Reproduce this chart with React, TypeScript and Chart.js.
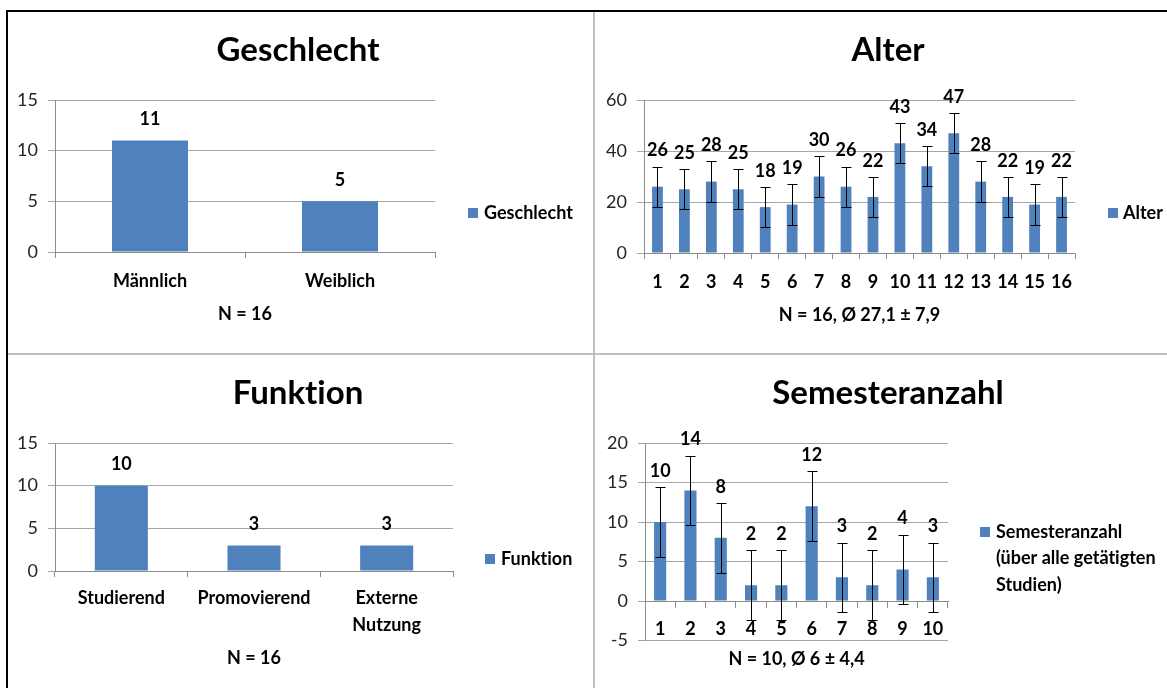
import React, { useEffect, useRef } from "react";
import { Chart, registerables } from "chart.js";

Chart.register(...registerables);

const FONT = "Lato";
const BAR_COLOR = "#4F81BD";
const GRID_COLOR = "#A6A6A6";
const AXIS_COLOR = "#8C8C8C";
const TEXT_COLOR = "#000000";
const TICK_COLOR = "#262626";

// ---- Geschlecht ----
const genderTitle = "Geschlecht";
const genderCategories = ["Männlich", "Weiblich"];
const genderValues = [11, 5];
const genderNote = "N = 16";
const genderLegend = ["Geschlecht"];
const genderTicks = [0, 5, 10, 15];

// ---- Alter ----
const ageTitle = "Alter";
const ageCategories = ["1", "2", "3", "4", "5", "6", "7", "8", "9", "10", "11", "12", "13", "14", "15", "16"];
const ageValues = [26, 25, 28, 25, 18, 19, 30, 26, 22, 43, 34, 47, 28, 22, 19, 22];
const ageSD = 7.9;
const ageNote = "N = 16, Ø 27,1 ± 7,9";
const ageLegend = ["Alter"];
const ageTicks = [0, 20, 40, 60];

// ---- Funktion ----
const roleTitle = "Funktion";
const roleCategories: (string | string[])[] = ["Studierend", "Promovierend", ["Externe", "Nutzung"]];
const roleValues = [10, 3, 3];
const roleNote = "N = 16";
const roleLegend = ["Funktion"];
const roleTicks = [0, 5, 10, 15];

// ---- Semesteranzahl ----
const semTitle = "Semesteranzahl";
const semCategories = ["1", "2", "3", "4", "5", "6", "7", "8", "9", "10"];
const semValues = [10, 14, 8, 2, 2, 12, 3, 2, 4, 3];
const semSD = 4.4;
const semNote = "N = 10, Ø 6 ± 4,4";
const semLegend = ["Semesteranzahl", "(über alle getätigten", "Studien)"];
const semTicks = [-5, 0, 5, 10, 15, 20];

function noLigatures(ctx: CanvasRenderingContext2D) {
  const c = ctx as any;
  if ("letterSpacing" in c) c.letterSpacing = "0.01px";
}

// plugin: chart title placed like the Excel original (centred on the panel)
const panelTitlePlugin = {
  id: "panelTitle",
  afterDraw(chart: any, _args: any, opts: any) {
    if (!opts.text) return;
    const ctx = chart.ctx as CanvasRenderingContext2D;
    ctx.save();
    noLigatures(ctx);
    ctx.fillStyle = TEXT_COLOR;
    ctx.font = `bold 33px ${FONT}`;
    ctx.textAlign = "center";
    ctx.textBaseline = "middle";
    ctx.fillText(opts.text, opts.x, opts.y);
    ctx.restore();
  },
};

// plugin: error bars + value labels
const barDecorPlugin = {
  id: "barDecor",
  afterDatasetsDraw(chart: any, _args: any, opts: any) {
    const sd: number = opts.sd || 0;
    const gap: number = opts.gap || 0;
    const meta = chart.getDatasetMeta(0);
    const ys = chart.scales.y;
    const values = chart.data.datasets[0].data as number[];
    const ctx = chart.ctx as CanvasRenderingContext2D;
    ctx.save();
    if (sd) {
      ctx.strokeStyle = "#000";
      ctx.lineWidth = 1;
      const cap = 5;
      meta.data.forEach((bar: any, i: number) => {
        const v = values[i];
        const x = Math.round(bar.x) + 0.5;
        const yt = Math.round(ys.getPixelForValue(v + sd)) + 0.5;
        const yb = Math.round(ys.getPixelForValue(v - sd)) + 0.5;
        ctx.beginPath();
        ctx.moveTo(x, yt);
        ctx.lineTo(x, yb);
        ctx.moveTo(x - cap, yt);
        ctx.lineTo(x + cap, yt);
        ctx.moveTo(x - cap, yb);
        ctx.lineTo(x + cap, yb);
        ctx.stroke();
      });
    }
    ctx.fillStyle = TEXT_COLOR;
    ctx.font = `bold 18px ${FONT}`;
    ctx.textAlign = "center";
    ctx.textBaseline = "middle";
    meta.data.forEach((bar: any, i: number) => {
      const v = values[i];
      const y = ys.getPixelForValue(v + sd) - gap;
      ctx.fillText(String(v), bar.x, y);
    });
    ctx.restore();
  },
};

// plugin: Excel-like side legend
const sideLegendPlugin = {
  id: "sideLegend",
  afterDraw(chart: any, _args: any, opts: any) {
    const lines: string[] = opts.lines || [];
    if (!lines.length) return;
    const ctx = chart.ctx as CanvasRenderingContext2D;
    ctx.save();
    noLigatures(ctx);
    ctx.fillStyle = BAR_COLOR;
    ctx.fillRect(opts.boxX, opts.y - 5, 10, 10);
    ctx.fillStyle = TEXT_COLOR;
    ctx.font = `bold 18px ${FONT}`;
    ctx.textAlign = "left";
    ctx.textBaseline = "middle";
    lines.forEach((t, i) => ctx.fillText(t, opts.textX, opts.y + i * opts.lineGap));
    ctx.restore();
  },
};

interface Spec {
  title: string;
  titlePos: { x: number; y: number };
  categories: (string | string[])[];
  values: number[];
  note: string;
  legend: string[];
  ticks: number[];
  sd?: number;
  gap: number;
  yWidth: number;
  layoutPad: { top: number; right: number; bottom: number };
  tickPad: number;
  tickLineHeight: number;
  notePadTop: number;
  xAtZero?: boolean;
  legendPos: { boxX: number; textX: number; y: number; lineGap: number };
}

function makeConfig(s: Spec): any {
  return {
    type: "bar",
    data: {
      labels: s.categories,
      datasets: [
        {
          label: s.legend.join(" "),
          data: s.values,
          backgroundColor: BAR_COLOR,
          borderWidth: 0,
          barPercentage: 0.4,
          categoryPercentage: 1,
        },
      ],
    },
    plugins: [barDecorPlugin, sideLegendPlugin, panelTitlePlugin],
    options: {
      responsive: false,
      animation: false,
      devicePixelRatio: 1,
      layout: { padding: { left: 0, top: s.layoutPad.top, right: s.layoutPad.right, bottom: s.layoutPad.bottom } },
      plugins: {
        legend: { display: false },
        tooltip: { enabled: false },
        title: { display: false },
        panelTitle: { text: s.title, ...s.titlePos },
        barDecor: { sd: s.sd || 0, gap: s.gap },
        sideLegend: { lines: s.legend, ...s.legendPos },
      },
      scales: {
        x: {
          type: "category",
          position: s.xAtZero ? { y: 0 } : "bottom",
          offset: true,
          grid: {
            display: true,
            drawOnChartArea: false,
            drawTicks: true,
            tickLength: 6,
            offset: true,
            color: AXIS_COLOR,
          },
          border: { display: true, color: AXIS_COLOR, width: 1 },
          ticks: {
            color: TEXT_COLOR,
            font: { family: FONT, size: 18, weight: "bold", lineHeight: s.tickLineHeight },
            padding: s.tickPad,
            maxRotation: 0,
            autoSkip: false,
          },
          title: {
            display: true,
            text: s.note,
            color: TEXT_COLOR,
            font: { family: FONT, size: 18, weight: "bold", lineHeight: 1 },
            padding: { top: s.notePadTop, bottom: 0 },
          },
        },
        y: {
          min: s.ticks[0],
          max: s.ticks[s.ticks.length - 1],
          afterBuildTicks: (scale: any) => {
            scale.ticks = s.ticks.map((v) => ({ value: v }));
          },
          afterFit: (scale: any) => {
            scale.width = s.yWidth;
          },
          grid: { color: GRID_COLOR, tickLength: 7, drawTicks: true, lineWidth: 1 },
          border: { display: true, color: AXIS_COLOR, width: 1 },
          ticks: {
            color: TICK_COLOR,
            font: { family: FONT, size: 18, weight: "normal" },
            padding: 10,
          },
        },
      },
    },
  };
}

function ChartPanel(props: { spec: Spec; left: number; top: number; width: number; height: number }) {
  const ref = useRef<HTMLCanvasElement>(null);
  useEffect(() => {
    const chart = new Chart(ref.current as HTMLCanvasElement, makeConfig(props.spec));
    return () => chart.destroy();
  }, []);
  return (
    <canvas
      ref={ref}
      width={props.width}
      height={props.height}
      style={{ position: "absolute", left: props.left, top: props.top, width: props.width, height: props.height }}
    />
  );
}

const genderSpec: Spec = {
  title: genderTitle,
  titlePos: { x: 290, y: 38 },
  categories: genderCategories,
  values: genderValues,
  note: genderNote,
  legend: genderLegend,
  ticks: genderTicks,
  gap: 21,
  yWidth: 47,
  layoutPad: { top: 88, right: 158, bottom: 29 },
  tickPad: 12,
  tickLineHeight: 1.2,
  notePadTop: 1.4,
  legendPos: { boxX: 460, textX: 476, y: 201, lineGap: 27 },
};

const ageSpec: Spec = {
  title: ageTitle,
  titlePos: { x: 293, y: 38 },
  categories: ageCategories,
  values: ageValues,
  note: ageNote,
  legend: ageLegend,
  ticks: ageTicks,
  sd: ageSD,
  gap: 16,
  yWidth: 49,
  layoutPad: { top: 88, right: 92, bottom: 29 },
  tickPad: 12,
  tickLineHeight: 1.2,
  notePadTop: 1.4,
  legendPos: { boxX: 513, textX: 528, y: 201, lineGap: 27 },
};

const roleSpec: Spec = {
  title: roleTitle,
  titlePos: { x: 290, y: 38 },
  categories: roleCategories,
  values: roleValues,
  note: roleNote,
  legend: roleLegend,
  ticks: roleTicks,
  gap: 21,
  yWidth: 47,
  layoutPad: { top: 88, right: 140, bottom: 21 },
  tickPad: 7.5,
  tickLineHeight: 1.5,
  notePadTop: 3,
  legendPos: { boxX: 477, textX: 493, y: 204, lineGap: 27 },
};

const semSpec: Spec = {
  title: semTitle,
  titlePos: { x: 293, y: 38 },
  categories: semCategories,
  values: semValues,
  note: semNote,
  legend: semLegend,
  ticks: semTicks,
  sd: semSD,
  gap: 16,
  yWidth: 50,
  layoutPad: { top: 88, right: 219, bottom: 47.5 },
  tickPad: 11,
  tickLineHeight: 1.2,
  notePadTop: 0,
  xAtZero: true,
  legendPos: { boxX: 385, textX: 401, y: 177, lineGap: 26.5 },
};

export default function App() {
  const line = (left: number, top: number, width: number, height: number, color: string) => (
    <div style={{ position: "absolute", left, top, width, height, background: color }} />
  );
  return (
    <div
      style={{
        position: "fixed",
        left: 0,
        top: 0,
        width: 1167,
        height: 688,
        background: "#ffffff",
        overflow: "hidden",
      }}
    >
      <ChartPanel spec={genderSpec} left={8} top={12} width={585} height={340} />
      <ChartPanel spec={ageSpec} left={595} top={12} width={572} height={341} />
      <ChartPanel spec={roleSpec} left={8} top={355} width={585} height={333} />
      <ChartPanel spec={semSpec} left={595} top={355} width={572} height={333} />
      {line(6, 10, 1161, 2, "#000000")}
      {line(6, 10, 2, 678, "#000000")}
      {line(593, 12, 2, 676, "#BFBFBF")}
      {line(8, 353, 1159, 2, "#BFBFBF")}
    </div>
  );
}
